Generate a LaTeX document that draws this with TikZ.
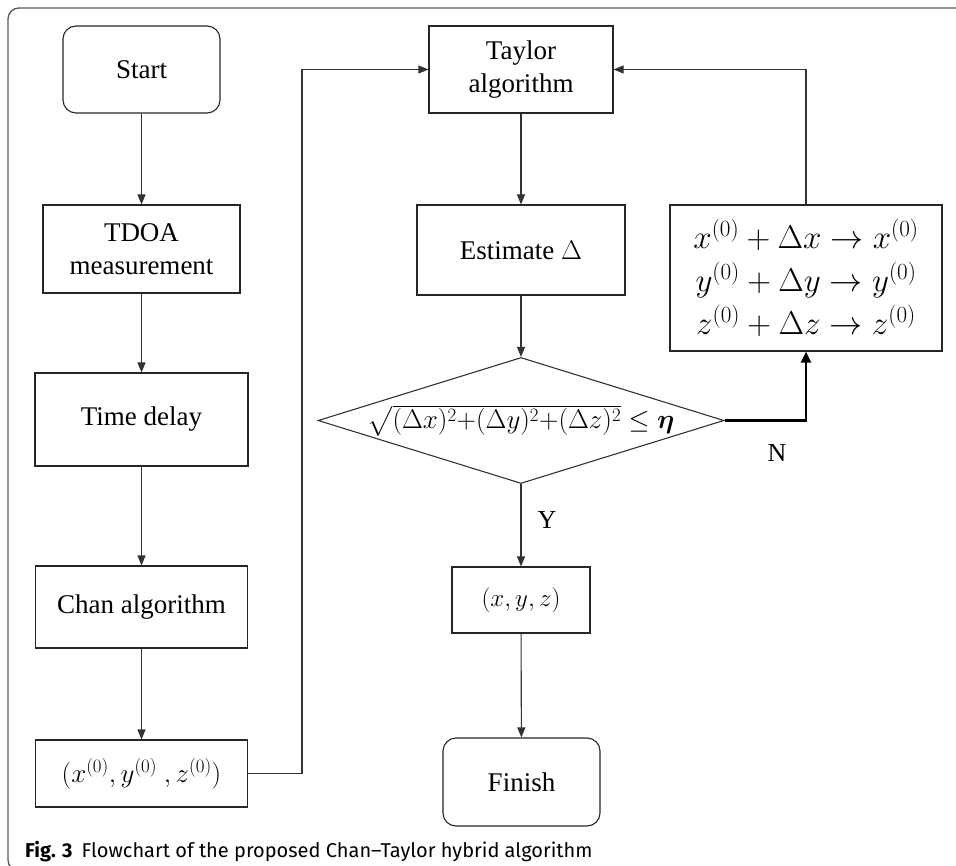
\RequirePackage{fix-cm}
\documentclass[tikz,border=0pt]{standalone}
\usepackage{amsmath}
\usepackage{bm}
\usepackage{fontspec}
\setmainfont{Liberation Serif}
\newfontfamily\capfont{Fira Sans}
\usetikzlibrary{arrows.meta,shapes.geometric}
\begin{document}
\begin{tikzpicture}[x=1pt,y=-1pt,
  box/.style={draw=black!85, line width=1.1pt, rectangle, inner sep=0pt, align=center,
              font=\fontsize{27}{33}\selectfont},
  rbox/.style={box, rounded corners=13pt},
  conn/.style={draw=black!80, line width=1.1pt, -{Triangle[length=10pt,width=8pt]}},
  lbl/.style={font=\fontsize{26}{30}\selectfont, inner sep=0pt}
]
\useasboundingbox (0,0) rectangle (956,866);
\begin{scope}
  \clip (0,0) rectangle (956,866);
  \draw[black!65, line width=1.3pt, rounded corners=11pt] (8,8) rectangle (975,871);
\end{scope}

% left column
\node[rbox, minimum width=157pt, minimum height=87pt] (start) at (141.5,69.5) {Start};
\node[box, minimum width=197pt, minimum height=88pt] (tdoa) at (141.5,249) {TDOA\\measurement};
\node[box, minimum width=213pt, minimum height=93pt] (tdel) at (141.5,419.5) {Time delay};
\node[box, minimum width=212pt, minimum height=82pt] (chan) at (141.5,607) {Chan algorithm};
\node[box, minimum width=212pt, minimum height=67pt, font=\fontsize{27}{32}\selectfont] (init) at (141.5,773.5) {$(x^{(0)},y^{(0)}\ ,z^{(0)})$};

% middle column
\node[box, minimum width=184pt, minimum height=87pt] (taylor) at (521,69.5) {Taylor\\algorithm};
\node[box, minimum width=208pt, minimum height=90pt] (est) at (521,250) {Estimate \(\Delta\)};
\node[draw=black!80, line width=1.1pt, diamond, minimum width=406pt, minimum height=126pt, inner sep=0pt] (dia) at (521,420.5) {};
\node[inner sep=0pt, font=\fontsize{27}{30}\selectfont] (cond) at (dia.center) {$\sqrt{(\Delta x)^2{+}(\Delta y)^2{+}(\Delta z)^2}\le \bm{\eta}$};
\node[box, minimum width=138pt, minimum height=66pt, font=\fontsize{25}{28}\selectfont] (res) at (521,600) {$(x,y,z)$};
\node[rbox, minimum width=157pt, minimum height=88pt] (fin) at (521.5,782) {Finish};

% right column
\node[box, minimum width=272pt, minimum height=146pt, font=\fontsize{33}{43}\selectfont] (upd) at (806,278)
  {$x^{(0)}+\Delta x\rightarrow x^{(0)}$\\$y^{(0)}+\Delta y\rightarrow y^{(0)}$\\$z^{(0)}+\Delta z\rightarrow z^{(0)}$};

% connectors
\draw[conn] (start) -- (tdoa);
\draw[conn] (tdoa) -- (tdel);
\draw[conn] (tdel) -- (chan);
\draw[conn] (chan) -- (init);
\coordinate (c1) at (302,773.5);
\draw[conn] (init.east) -- (c1) |- (taylor.west);
\draw[conn] (taylor) -- (est);
\draw[conn] (est) -- (dia.north);
\draw[conn] (dia.south) -- (res.north);
\node[lbl] (ylab) at (547,520) {Y};
\draw[conn] (res) -- (fin);
\draw[conn, draw=black, line width=2.4pt, -{Triangle[length=11pt,width=10pt]}] (dia.east) -| (upd.south);
\node[lbl] (nlab) at (777,453) {N};
\draw[conn] (upd.north) |- (taylor.east);

% caption
\node[anchor=base west, inner sep=0pt, font=\capfont\fontsize{20}{24}\selectfont] (cap) at (25,857)
  {\textbf{Fig. 3}\hspace{9pt}Flowchart of the proposed Chan–Taylor hybrid algorithm};
\end{tikzpicture}
\end{document}
